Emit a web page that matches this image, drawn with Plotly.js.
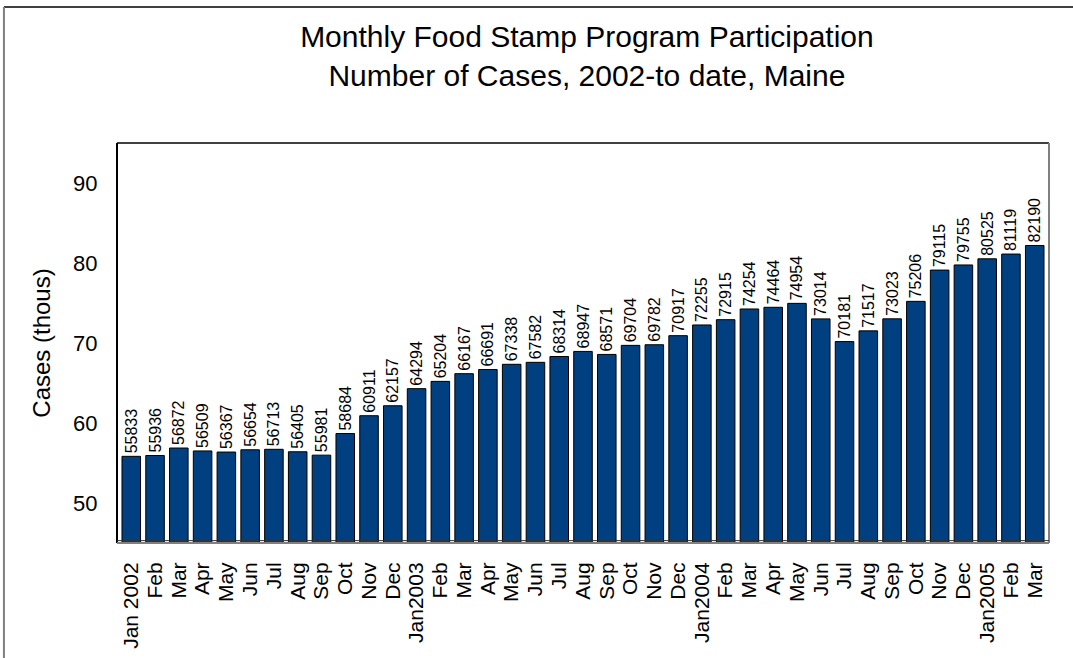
<!DOCTYPE html>
<html>
<head>
<meta charset="utf-8">
<script src="https://cdn.plot.ly/plotly-3.0.1.min.js"></script>
<style>html,body{margin:0;padding:0;background:#fff;}#chart{width:1073px;height:658px;}</style>
</head>
<body>
<div id="chart"></div>
<script>
const months = ["Jan 2002","Feb","Mar","Apr","May","Jun","Jul","Aug","Sep","Oct","Nov","Dec",
  "Jan2003","Feb","Mar","Apr","May","Jun","Jul","Aug","Sep","Oct","Nov","Dec",
  "Jan2004","Feb","Mar","Apr","May","Jun","Jul","Aug","Sep","Oct","Nov","Dec",
  "Jan2005","Feb","Mar"];
const cases = [55833,55936,56872,56509,56367,56654,56713,56405,55981,58684,60911,62157,
  64294,65204,66167,66691,67338,67582,68314,68947,68571,69704,69782,70917,
  72255,72915,74254,74464,74954,73014,70181,71517,73023,75206,79115,79755,
  80525,81119,82190];
const yTicks = [50,60,70,80,90];

const idx = cases.map((_, i) => i);
const font = "Liberation Sans, Arial, sans-serif";

const trace = {
  type: "bar",
  x: idx,
  y: cases.map(v => v / 1000),
  text: cases.map(String),
  textposition: "outside",
  textangle: -90,
  constraintext: "none",
  textfont: {family: font, size: 16, color: "#000"},
  cliponaxis: false,
  marker: {color: "#003f80", line: {color: "#000", width: 1}},
  hoverinfo: "none"
};

const layout = {
  width: 1073, height: 658,
  margin: {l: 117, r: 24, t: 143, b: 115},
  paper_bgcolor: "#fff", plot_bgcolor: "#fff",
  showlegend: false,
  bargap: 0.22,
  title: {
    text: "Monthly Food Stamp Program Participation<br>Number of Cases, 2002-to date, Maine",
    font: {family: font, size: 30, color: "#000"},
    x: 0.547, xanchor: "center", y: 0.929, yanchor: "middle"
  },
  xaxis: {
    tickmode: "array", tickvals: idx, ticktext: months,
    tickangle: -90, tickfont: {family: font, size: 21, color: "#000"},
    range: [-0.6, cases.length - 0.4],
    showgrid: false, zeroline: false,
    showline: false, ticks: "outside", ticklen: 10, tickcolor: "rgba(0,0,0,0)"
  },
  yaxis: {
    range: [45, 95],
    tickmode: "array", tickvals: yTicks,
    tickfont: {family: font, size: 22, color: "#000"},
    showgrid: false, zeroline: false, showline: false,
    ticks: "outside", ticklen: 14, tickcolor: "rgba(0,0,0,0)",
    title: {text: "Cases (thous)", font: {family: font, size: 24, color: "#000"}, standoff: 15}
  },
  shapes: [
    {type: "line", xref: "paper", yref: "paper", x0: 0, x1: 0, y0: 0, y1: 1, line: {color: "#000", width: 2}},
    {type: "line", xref: "paper", yref: "paper", x0: 0, x1: 1, y0: 1, y1: 1, line: {color: "#000", width: 1.5}},
    {type: "line", xref: "paper", yref: "paper", x0: 1, x1: 1, y0: 0, y1: 1, line: {color: "#808080", width: 2}},
    {type: "line", xref: "paper", yref: "paper", x0: 0, x1: 1, y0: 0, y1: 0, line: {color: "#808080", width: 2}},
    {type: "line", xref: "paper", yref: "paper", x0: 0, x1: 1, y0: 0.006, y1: 0.006, line: {color: "#333", width: 1}},
    {type: "line", xref: "paper", yref: "paper", x0: -0.1213, x1: 1.03, y0: 1.34, y1: 1.34, line: {color: "#000", width: 1.5}},
    {type: "line", xref: "paper", yref: "paper", x0: -0.1213, x1: -0.1213, y0: -0.29, y1: 1.34, line: {color: "#808080", width: 2}}
  ]
};

Plotly.newPlot("chart", [trace], layout, {displayModeBar: false, staticPlot: true});
</script>
</body>
</html>
